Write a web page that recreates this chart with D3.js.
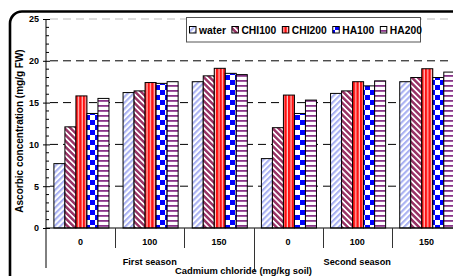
<!DOCTYPE html>
<html><head><meta charset="utf-8">
<script src="https://cdn.jsdelivr.net/npm/d3@7"></script>
<style>html,body{margin:0;padding:0;background:#fff;overflow:hidden}svg{display:block;font-family:"Liberation Sans",Arial,sans-serif}</style>
</head><body>
<script>
const categories = ["0","100","150","0","100","150"];
const seasons = ["First season","Second season"];
const seriesNames = ["water","CHI100","CHI200","HA100","HA200"];
const water  = [7.7, 16.2, 17.5, 8.3, 16.1, 17.5];
const chi100 = [12.1, 16.4, 18.2, 12.0, 16.4, 18.0];
const chi200 = [15.8, 17.4, 19.1, 15.9, 17.5, 19.05];
const ha100  = [13.7, 17.3, 18.5, 13.7, 17.0, 18.0];
const ha200  = [15.5, 17.5, 18.35, 15.3, 17.6, 18.65];
const yTicks = [0,5,10,15,20,25];
const yTitle = "Ascorbic concentration (mg/g FW)";
const xTitle = "Cadmium chloride (mg/kg soil)";

const seriesValues = [water, chi100, chi200, ha100, ha200];
const W = 453, H = 276;
const svg = d3.select("body").append("svg").attr("width", W).attr("height", H);
svg.append("rect").attr("width", W).attr("height", H).attr("fill", "#fff");

const defs = svg.append("defs");
function pat(id, size, bg, draw, rot) {
  const p = defs.append("pattern").attr("id", id).attr("patternUnits", "userSpaceOnUse")
    .attr("width", size[0]).attr("height", size[1]);
  if (rot) p.attr("patternTransform", `rotate(${rot})`);
  p.append("rect").attr("width", size[0]).attr("height", size[1]).attr("fill", bg);
  draw(p);
}
pat("p0", [4.2, 4.2], "#fff", p => p.append("rect").attr("width", 2.1).attr("height", 4.2).attr("fill", "#a9b1f2"), 45);
pat("p1", [4.2, 4.2], "#fff", p => p.append("rect").attr("width", 2.5).attr("height", 4.2).attr("fill", "#993366"), -45);
pat("p2", [3.6, 4], "#ffc8c8", p => p.append("rect").attr("width", 2.4).attr("height", 4).attr("fill", "#ff1010"));
pat("p3", [10, 10], "#fff", p => {
  p.append("rect").attr("width", 5).attr("height", 5).attr("fill", "#0000ff");
  p.append("rect").attr("x", 5).attr("y", 5).attr("width", 5).attr("height", 5).attr("fill", "#0000ff");
});
pat("p4", [4, 5], "#fff", p => p.append("rect").attr("y", 0).attr("width", 4).attr("height", 1.8).attr("fill", "#883388"));

const x0 = d3.scaleBand().domain(d3.range(categories.length)).range([46, 461]).padding(0);
const x1 = d3.scaleBand().domain(seriesNames).range([0, x0.bandwidth()]).paddingInner(0).paddingOuter(0.64).align(0.56);
const y = d3.scaleLinear().domain([0, 25]).range([228, 19]);

// gridlines
const grid = svg.append("g");
yTicks.filter(t => t > 0).forEach(t => {
  grid.append("line").attr("x1", 50).attr("x2", 461).attr("y1", y(t)).attr("y2", y(t))
    .attr("stroke", t === 25 ? "#bbb" : "#000").attr("stroke-width", 1)
    .attr("stroke-dasharray", "8,5");
});

// bars
const gBars = svg.append("g");
seriesNames.forEach((s, si) => {
  gBars.selectAll(null).data(seriesValues[si]).join("rect")
    .attr("x", (d, i) => x0(i) + x1(s))
    .attr("width", x1.bandwidth())
    .attr("y", d => y(d))
    .attr("height", d => y(0) - y(d))
    .attr("fill", `url(#p${si})`)
    .attr("stroke", "#000").attr("stroke-width", 1);
});

// x axis baseline
svg.append("line").attr("x1", 46).attr("x2", 461).attr("y1", y(0)).attr("y2", y(0)).attr("stroke", "#000");

// y axis
const yAxis = d3.axisLeft(y).tickValues(yTicks).tickSize(3).tickSizeOuter(0).tickPadding(4);
const ga = svg.append("g").attr("transform", "translate(46,0)").call(yAxis);
ga.select(".domain").remove();
ga.selectAll(".tick line").attr("x2", 4).attr("x1", -3).attr("stroke", "#000");
ga.selectAll("text").attr("font-size", 9).attr("font-weight", "bold").attr("fill", "#000")
  .attr("font-family", '"Liberation Sans",Arial,sans-serif');
const minor = d3.range(0, 26).filter(v => v % 5 !== 0);
svg.append("g").selectAll("line").data(minor).join("line")
  .attr("x1", 46).attr("x2", 49).attr("y1", d => y(d)).attr("y2", d => y(d)).attr("stroke", "#000");
svg.append("line").attr("x1", 46).attr("x2", 46).attr("y1", y(25)).attr("y2", 268).attr("stroke", "#000");

// group separators
d3.range(1, categories.length).forEach(i => {
  const xx = Math.round(x0(i)) + 0.5;
  svg.append("line").attr("x1", xx).attr("x2", xx).attr("y1", y(0)).attr("y2", i === 3 ? 271 : 248)
    .attr("stroke", "#333").attr("stroke-width", 1);
});

// category labels
svg.append("g").selectAll("text").data(categories).join("text")
  .attr("x", (d, i) => x0(i) + x0.bandwidth() / 2).attr("y", 245)
  .attr("text-anchor", "middle").attr("font-size", 9).attr("font-weight", "bold").text(d => d);
// season labels
svg.append("g").selectAll("text").data(seasons).join("text")
  .attr("x", (d, i) => (x0(i * 3) + x0(i * 3 + 2) + x0.bandwidth()) / 2).attr("y", 265)
  .attr("text-anchor", "middle").attr("font-size", 9.2).attr("font-weight", "bold").text(d => d);
// x title
svg.append("text").attr("x", 243.5).attr("y", 274).attr("text-anchor", "middle")
  .attr("font-size", 9.4).attr("font-weight", "bold").text(xTitle);
// y title
svg.append("text").attr("transform", "translate(23,131) rotate(-90)").attr("text-anchor", "middle")
  .attr("font-size", 10).attr("font-weight", "bold").text(yTitle);

// legend
const lg = svg.append("g");
lg.append("rect").attr("x", 186.5).attr("y", 17.5).attr("width", 234).attr("height", 24.5)
  .attr("fill", "#fff").attr("stroke", "#555").attr("stroke-width", 1);
let lx = 189;
seriesNames.forEach((s, si) => {
  lg.append("rect").attr("x", lx + 0.5).attr("y", 26.5).attr("width", 6.5).attr("height", 6.5)
    .attr("fill", `url(#p${si})`).attr("stroke", "#000").attr("stroke-width", 1);
  const t = lg.append("text").attr("x", lx + 10).attr("y", 33.5).attr("font-size", 10.3)
    .attr("font-weight", "bold").text(s);
  lx += 10 + t.node().getComputedTextLength() + 5.5;
});

// frame
svg.append("rect").attr("x", 10).attr("y", 11.5).attr("width", 520).attr("height", 320).attr("rx", 12)
  .attr("fill", "none").attr("stroke", "#000").attr("stroke-width", 2.6);
</script>
</body></html>
